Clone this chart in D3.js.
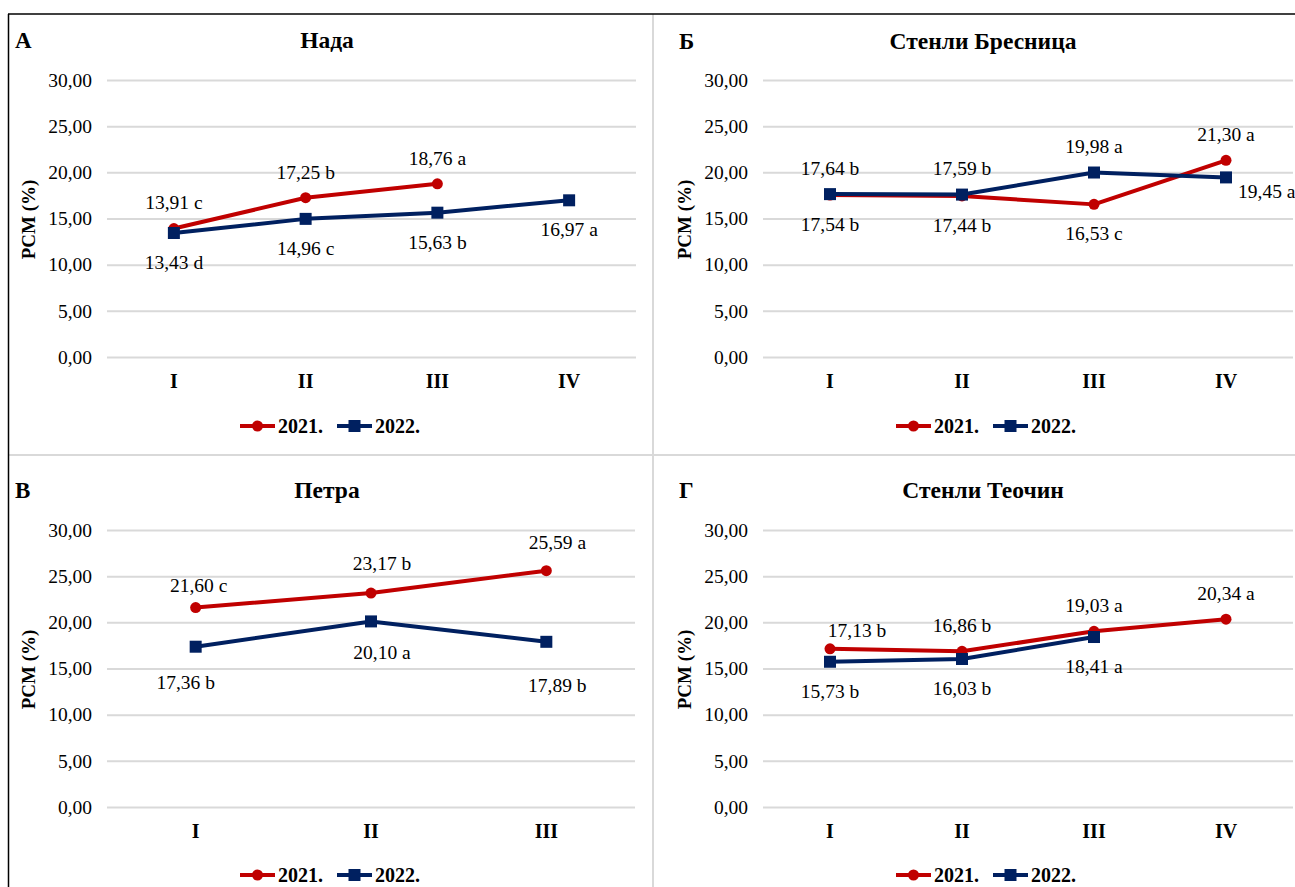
<!DOCTYPE html>
<html>
<head>
<meta charset="utf-8">
<script src="https://cdn.jsdelivr.net/npm/d3@7"></script>
<style>
html,body{margin:0;padding:0;background:#fff;}
svg{display:block;font-family:"Liberation Serif","Times New Roman","DejaVu Serif",serif;}
</style>
</head>
<body>
<svg id="chart" width="1295" height="887"></svg>
<script>
// ---- data ----
const panelLetters = ['A', 'Б', 'В', 'Г'];
const varieties = ['Нада', 'Стенли Бресница', 'Петра', 'Стенли Теочин'];
const seriesNames = ['2021.', '2022.'];
const yTicks = [0, 5, 10, 15, 20, 25, 30];

const catsNada = ['I', 'II', 'III', 'IV'];
const nada2021 = [13.91, 17.25, 18.76, null];
const nada2022 = [13.43, 14.96, 15.63, 16.97];
const nadaSig2021 = ['c', 'b', 'a', null];
const nadaSig2022 = ['d', 'c', 'b', 'a'];

const catsBresnica = ['I', 'II', 'III', 'IV'];
const bresnica2021 = [17.54, 17.44, 16.53, 21.30];
const bresnica2022 = [17.64, 17.59, 19.98, 19.45];
const bresnicaSig2021 = ['b', 'b', 'c', 'a'];
const bresnicaSig2022 = ['b', 'b', 'a', 'a'];

const catsPetra = ['I', 'II', 'III'];
const petra2021 = [21.60, 23.17, 25.59];
const petra2022 = [17.36, 20.10, 17.89];
const petraSig2021 = ['c', 'b', 'a'];
const petraSig2022 = ['b', 'a', 'b'];

const catsTeocin = ['I', 'II', 'III', 'IV'];
const teocin2021 = [17.13, 16.86, 19.03, 20.34];
const teocin2022 = [15.73, 16.03, 18.41, null];
const teocinSig2021 = ['b', 'b', 'a', 'a'];
const teocinSig2022 = ['b', 'b', 'a', null];

// ---- label placement (style, not data) ----
const labelPos = [
  [['above', 'above', 'above', null], ['below', 'below', 'below', 'below']],
  [['below', 'below', 'below', 'above'], ['above', 'above', 'above', 'right']],
  [['above', 'above', 'above'], ['below', 'below', 'below']],
  [['above', 'above', 'above', 'above'], ['below', 'below', 'below', null]]
];
const labelNudge = [ // [dx, dy] per point
  [[[0,0],[0,0],[0,0],[0,0]], [[0,0],[0,0],[0,0],[0,0]]],
  [[[0,0],[0,0],[0,0],[0,0]], [[0,0],[0,0],[0,0],[0,0]]],
  [[[3,4],[11,-4],[11,-3]], [[-10,6],[11,2],[11,14]]],
  [[[27,7],[0,0],[0,0],[0,0]], [[0,0],[0,0],[0,0],[0,0]]]
];

const panels = [
  {cats: catsNada, s: [nada2021, nada2022], sig: [nadaSig2021, nadaSig2022]},
  {cats: catsBresnica, s: [bresnica2021, bresnica2022], sig: [bresnicaSig2021, bresnicaSig2022]},
  {cats: catsPetra, s: [petra2021, petra2022], sig: [petraSig2021, petraSig2022]},
  {cats: catsTeocin, s: [teocin2021, teocin2022], sig: [teocinSig2021, teocinSig2022]}
];

// ---- layout / style ----
const colors = ['#C00000', '#002060'];
const plotBoxes = [
  {x0: 108, x1: 635, y0: 80, y1: 357, titleY: 40, legY: 426, letterX: 15},
  {x0: 764, x1: 1292, y0: 80, y1: 357, titleY: 41, legY: 426, letterX: 679},
  {x0: 108, x1: 634, y0: 530, y1: 807, titleY: 490, legY: 875, letterX: 15},
  {x0: 764, x1: 1292, y0: 530, y1: 807, titleY: 490, legY: 875, letterX: 679}
];
const fmt = v => d3.format('.2f')(v).replace('.', ',');
const FONT = '"Liberation Serif","Times New Roman","DejaVu Serif",serif';

const svg = d3.select('#chart');

// frame and dividers
svg.append('line').attr('x1', 653).attr('x2', 653).attr('y1', 14).attr('y2', 887)
  .attr('stroke', '#d9d9d9').attr('stroke-width', 2);
svg.append('line').attr('x1', 8).attr('x2', 1295).attr('y1', 455).attr('y2', 455)
  .attr('stroke', '#d9d9d9').attr('stroke-width', 2);
svg.append('line').attr('x1', 8).attr('x2', 1295).attr('y1', 14).attr('y2', 14)
  .attr('stroke', '#000').attr('stroke-width', 1.5);
svg.append('line').attr('x1', 8.5).attr('x2', 8.5).attr('y1', 14).attr('y2', 887)
  .attr('stroke', '#000').attr('stroke-width', 1.5);

panels.forEach((p, i) => {
  const b = plotBoxes[i];
  const g = svg.append('g');
  const x = d3.scaleBand().domain(p.cats).range([b.x0, b.x1]);
  const cx = c => x(c) + x.bandwidth() / 2;
  const y = d3.scaleLinear().domain([0, 30]).range([b.y1, b.y0]);

  // panel letter and title
  g.append('text').attr('x', b.letterX).attr('y', b.titleY).attr('dy', '0.35em')
    .attr('font-size', 23).attr('font-weight', 'bold').text(panelLetters[i]);
  g.append('text').attr('x', b.x0 + 219).attr('y', b.titleY).attr('dy', '0.35em')
    .attr('text-anchor', 'middle').attr('font-size', 23.5).attr('font-weight', 'bold').text(varieties[i]);

  // y axis with gridlines
  const ya = g.append('g').attr('transform', `translate(${b.x0 - 1},0)`)
    .call(d3.axisLeft(y).tickValues(yTicks).tickFormat(fmt).tickSize(-(b.x1 - b.x0 + 2)).tickPadding(15));
  ya.select('.domain').remove();
  ya.attr('font-family', FONT);
  ya.selectAll('.tick line').attr('stroke', '#d9d9d9').attr('stroke-width', 2);
  ya.selectAll('.tick text').attr('font-size', 19.5).attr('fill', '#000');

  // x axis labels
  const xa = g.append('g').attr('transform', `translate(0,${b.y1})`)
    .call(d3.axisBottom(x).tickSize(0).tickPadding(17));
  xa.select('.domain').remove();
  xa.attr('font-family', FONT);
  xa.selectAll('.tick text').attr('font-size', 20).attr('font-weight', 'bold').attr('fill', '#000');

  // y title
  g.append('text').attr('transform', `translate(${b.x0 - 80},${(b.y0 + b.y1) / 2 + 1}) rotate(-90)`)
    .attr('dy', '0.35em').attr('text-anchor', 'middle').attr('font-size', 19).attr('font-weight', 'bold')
    .text('PCM (%)');

  // series
  p.s.forEach((vals, si) => {
    const pts = vals.map((v, k) => ({c: p.cats[k], v, sig: p.sig[si][k], pos: labelPos[i][si][k], nd: labelNudge[i][si][k]}))
      .filter(d => d.v != null);
    const line = d3.line().x(d => cx(d.c)).y(d => y(d.v));
    g.append('path').datum(pts).attr('d', line).attr('fill', 'none')
      .attr('stroke', colors[si]).attr('stroke-width', 4).attr('stroke-linejoin', 'round');
    if (si === 0) {
      g.selectAll(null).data(pts).enter().append('circle')
        .attr('cx', d => cx(d.c)).attr('cy', d => y(d.v)).attr('r', 5.5).attr('fill', colors[si]);
    } else {
      g.selectAll(null).data(pts).enter().append('rect')
        .attr('x', d => cx(d.c) - 6).attr('y', d => y(d.v) - 6).attr('width', 12).attr('height', 12)
        .attr('fill', colors[si]);
    }
    g.selectAll(null).data(pts).enter().append('text')
      .attr('x', d => (d.pos === 'right' ? cx(d.c) + 12 : cx(d.c)) + d.nd[0])
      .attr('y', d => y(d.v) + (d.pos === 'above' ? -26 : d.pos === 'below' ? 29 : 14) + d.nd[1])
      .attr('dy', '0.35em')
      .attr('text-anchor', d => d.pos === 'right' ? 'start' : 'middle')
      .attr('font-size', 19.5).attr('fill', '#000')
      .text(d => `${fmt(d.v)} ${d.sig}`);
  });

  // legend
  const lx = b.x0 + 132;
  seriesNames.forEach((name, si) => {
    const ox = lx + si * 97;
    const lg = g.append('g').attr('transform', `translate(${ox},${b.legY})`);
    lg.append('line').attr('x1', 0).attr('x2', 35).attr('y1', 0).attr('y2', 0)
      .attr('stroke', colors[si]).attr('stroke-width', 4);
    if (si === 0) lg.append('circle').attr('cx', 17.5).attr('cy', 0).attr('r', 5.5).attr('fill', colors[si]);
    else lg.append('rect').attr('x', 11.5).attr('y', -6).attr('width', 12).attr('height', 12).attr('fill', colors[si]);
    lg.append('text').attr('x', 38).attr('y', 0).attr('dy', '0.35em')
      .attr('font-size', 20).attr('font-weight', 'bold').text(name);
  });
});
</script>
</body>
</html>
